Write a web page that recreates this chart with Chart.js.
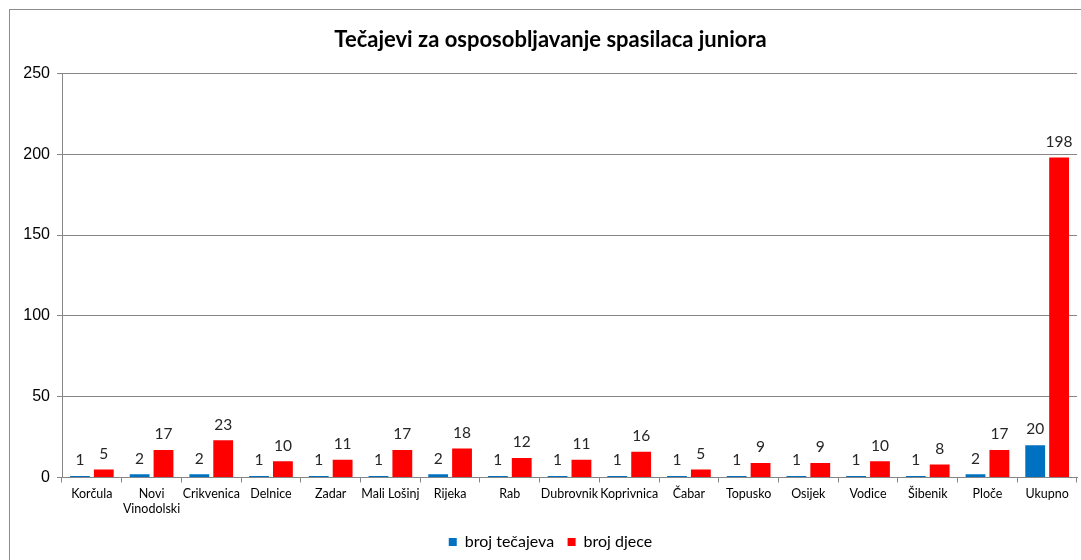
<!DOCTYPE html>
<html><head><meta charset="utf-8">
<script src="https://cdn.jsdelivr.net/npm/chart.js@4/dist/chart.umd.min.js"></script>
<style>html,body{margin:0;padding:0;background:#fff;}#wrap{position:relative;width:1081px;height:560px;overflow:hidden;}</style>
</head><body><div id="wrap"><canvas id="c" width="1081" height="560"></canvas></div>
<script>
const categories = ['Korčula', ['Novi','Vinodolski'], 'Crikvenica', 'Delnice', 'Zadar', 'Mali Lošinj', 'Rijeka', 'Rab', 'Dubrovnik', 'Koprivnica', 'Čabar', 'Topusko', 'Osijek', 'Vodice', 'Šibenik', 'Ploče', 'Ukupno'];
const brojTecajeva = [1, 2, 2, 1, 1, 1, 2, 1, 1, 1, 1, 1, 1, 1, 1, 2, 20];
const brojDjece = [5, 17, 23, 10, 11, 17, 18, 12, 11, 16, 5, 9, 9, 10, 8, 17, 198];
const yTicks = [0, 50, 100, 150, 200, 250];
const seriesNames = ['broj tečajeva', 'broj djece'];
const titleText = 'Tečajevi za osposobljavanje spasilaca juniora';

const labelFont = '"Lato", "Noto Sans", sans-serif';

const borderPlugin = {
  id: 'outerBorder',
  beforeDraw(chart) {
    const ctx = chart.ctx;
    ctx.save();
    ctx.fillStyle = '#fff';
    ctx.fillRect(0, 0, chart.width, chart.height);
    ctx.strokeStyle = '#8c8c8c';
    ctx.lineWidth = 1;
    ctx.strokeRect(9.5, 9.5, chart.width + 20, chart.height + 20);
    ctx.restore();
  }
};

const valueLabels = {
  id: 'valueLabels',
  afterDatasetsDraw(chart) {
    const ctx = chart.ctx;
    ctx.save();
    ctx.font = '15.5px ' + labelFont;
    ctx.fillStyle = '#262626';
    ctx.textAlign = 'center';
    ctx.textBaseline = 'bottom';
    chart.data.datasets.forEach((ds, i) => {
      const meta = chart.getDatasetMeta(i);
      meta.data.forEach((bar, j) => {
        ctx.fillText(String(ds.data[j]), bar.x, bar.y - 8);
      });
    });
    ctx.restore();
  }
};

new Chart(document.getElementById('c'), {
  type: 'bar',
  data: {
    labels: categories,
    datasets: [
      { label: seriesNames[0], data: brojTecajeva, backgroundColor: '#0070C0', categoryPercentage: 0.8, barPercentage: 0.83, minBarLength: 1.5 },
      { label: seriesNames[1], data: brojDjece, backgroundColor: '#FF0000', categoryPercentage: 0.8, barPercentage: 0.83 }
    ]
  },
  options: {
    responsive: false,
    animation: false,
    layout: { padding: { left: 24, right: 4, top: 0, bottom: 0 } },
    plugins: {
      title: {
        display: true, text: titleText, color: '#000',
        font: { family: labelFont, size: 22, weight: 'bold' },
        padding: { top: 27, bottom: 20 }
      },
      legend: {
        position: 'bottom',
        labels: { boxWidth: 8, boxHeight: 8, color: '#000', padding: 13.5, font: { family: labelFont, size: 16 } }
      },
      tooltip: { enabled: false }
    },
    scales: {
      y: {
        min: 0, max: 250,
        afterBuildTicks(scale) { scale.ticks = yTicks.map(v => ({ value: v })); },
        afterFit(scale) { scale.width = 38; },
        ticks: { color: '#000', padding: 7, font: { family: '"Liberation Sans", Arial, sans-serif', size: 16 } },
        grid: { color: '#868686', tickLength: 5, tickColor: '#868686' },
        border: { color: '#868686' }
      },
      x: {
        ticks: { color: '#000', padding: 4, maxRotation: 0, autoSkip: false, font: { family: labelFont, size: 12.5 } },
        grid: { drawOnChartArea: false, drawTicks: true, tickLength: 5, color: '#868686', offset: true },
        border: { color: '#868686' }
      }
    }
  },
  plugins: [borderPlugin, valueLabels]
});
</script></body></html>
